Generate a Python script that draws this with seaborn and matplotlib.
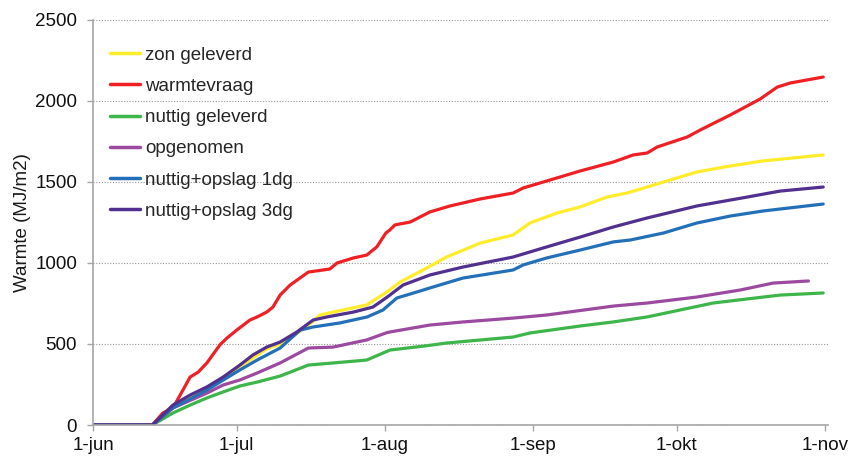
import matplotlib
matplotlib.use("Agg")
import matplotlib.pyplot as plt
import seaborn as sns
import pandas as pd

# day offsets since 1-jun, cumulative heat (MJ/m2)
zon_days = [0, 12.4, 16.7, 20.3, 23.8, 30.7, 36.3, 39.1, 42.6, 46, 47.4, 50.2, 57.2, 61.4, 64.2, 69, 73.9, 80.9, 87.8, 91.3, 97, 101.8, 107.4, 111.6, 115.8, 122.7, 126.2, 133.2, 140, 152.6]
zon_vals = [0, 0, 115, 175, 228, 360, 470, 500, 565, 640, 679, 697, 741, 821, 883, 957, 1037, 1123, 1173, 1247, 1309, 1346, 1407, 1432, 1469, 1531, 1562, 1599, 1630, 1667]

vraag_days = [0, 12.4, 14.6, 16.7, 18.8, 20.3, 22, 23.8, 26.5, 28, 30, 32.8, 34.3, 36.3, 37.6, 39.1, 41.2, 45, 49.5, 51, 54.4, 57.2, 59.3, 61.2, 62, 63.1, 66.3, 70.4, 74.6, 80.9, 87.8, 89.9, 94.8, 101.8, 108.7, 112.9, 115.8, 117.9, 124.2, 126.9, 133.2, 139.4, 143, 145.7, 152.6]
vraag_vals = [0, 0, 74, 105, 216, 296, 327, 383, 494, 537, 585, 648, 667, 697, 728, 802, 864, 944, 963, 1000, 1031, 1049, 1099, 1185, 1203, 1235, 1253, 1315, 1352, 1395, 1432, 1463, 1506, 1568, 1623, 1667, 1679, 1716, 1778, 1821, 1914, 2012, 2086, 2111, 2148]

nuttig_days = [0, 12.4, 16.7, 20.3, 23.8, 27.2, 30.7, 34.3, 39.1, 45, 50.2, 57.2, 62.1, 69.4, 73.9, 87.8, 91.3, 101.8, 108.7, 115.8, 122.7, 129.6, 136.7, 143.6, 152.6]
nuttig_vals = [0, 0, 74, 123, 167, 204, 241, 265, 302, 370, 383, 401, 463, 488, 506, 543, 568, 611, 636, 667, 710, 753, 778, 802, 815]

opgen_days = [0, 12.4, 16.7, 23.8, 27.2, 30.7, 34.3, 39.1, 45, 50.2, 57.2, 61.4, 62, 70.4, 77.3, 87.8, 94.8, 108.7, 115.8, 126.2, 135.2, 142.1, 149.5]
opgen_vals = [0, 0, 105, 197, 247, 278, 321, 383, 475, 481, 525, 570, 574, 617, 636, 660, 679, 734, 753, 790, 833, 876, 889]

opsl1_days = [0, 12.4, 16.7, 23.8, 30.7, 34.3, 39.1, 43.3, 46, 51.6, 57.3, 60.6, 63.5, 67, 70.4, 77.3, 87.8, 89.9, 94.8, 101.8, 108.7, 112.3, 119.2, 126.2, 133.2, 140, 152.6]
opsl1_vals = [0, 0, 105, 216, 340, 401, 475, 586, 605, 630, 667, 710, 784, 815, 846, 907, 957, 988, 1031, 1080, 1130, 1142, 1185, 1247, 1290, 1321, 1364]

opsl3_days = [0, 12.4, 16.7, 20.3, 23.8, 27.2, 30.7, 33.4, 36.3, 39.1, 42.6, 46, 48.9, 54.4, 58.5, 61.5, 64.8, 70.4, 77.3, 87.8, 94.8, 101.8, 108.7, 115.8, 122.7, 126.2, 136.7, 143.6, 152.6]
opsl3_vals = [0, 0, 123, 185, 235, 296, 370, 432, 481, 512, 574, 648, 667, 697, 728, 790, 864, 926, 975, 1037, 1099, 1160, 1222, 1278, 1327, 1352, 1407, 1444, 1469]

series_names = ["zon geleverd", "warmtevraag", "nuttig geleverd", "opgenomen",
                "nuttig+opslag 1dg", "nuttig+opslag 3dg"]
series_colors = ["#FFEC2A", "#EE2024", "#3DB54A", "#9C4A9F", "#2370B9", "#51308F"]

tick_days = [0, 30, 61, 92, 122, 153]
tick_labels = ["1-jun", "1-jul", "1-aug", "1-sep", "1-okt", "1-nov"]
y_ticks = [0, 500, 1000, 1500, 2000, 2500]

frames = []
for name, d, v in zip(series_names,
                      [zon_days, vraag_days, nuttig_days, opgen_days, opsl1_days, opsl3_days],
                      [zon_vals, vraag_vals, nuttig_vals, opgen_vals, opsl1_vals, opsl3_vals]):
    frames.append(pd.DataFrame({"dag": d, "warmte": v, "reeks": name}))
df = pd.concat(frames, ignore_index=True)

sns.set_style("white")
plt.rcParams["font.family"] = ["Liberation Sans", "DejaVu Sans"]

fig = plt.figure(figsize=(8.5, 4.57), dpi=100)
ax = fig.add_axes([93 / 850, 1 - 425 / 457, (828 - 93) / 850, (425 - 20) / 457])

sns.lineplot(data=df, x="dag", y="warmte", hue="reeks", hue_order=series_names,
             palette=series_colors, linewidth=2.3, ax=ax, sort=False,
             estimator=None)

ax.set_xlim(0, 153.6)
ax.set_ylim(0, 2500)
ax.set_xticks(tick_days)
ax.set_xticklabels(tick_labels)
ax.set_yticks(y_ticks)
ax.set_xlabel("")
ax.set_ylabel("Warmte (MJ/m2)", fontsize=13.5, color="#1a1a1a", labelpad=3)
ax.yaxis.grid(True, linestyle=(0, (1, 1.5)), color="#999999", linewidth=0.8)
ax.xaxis.grid(False)
for s in ["top", "right"]:
    ax.spines[s].set_visible(False)
for s in ["left", "bottom"]:
    ax.spines[s].set_color("#A6A6A6")
    ax.spines[s].set_linewidth(1.2)
ax.tick_params(axis="both", which="both", direction="out", length=4.5, width=1.0,
               color="#A6A6A6", labelsize=13.5, labelcolor="#111111",
               bottom=True, left=True)
ax.tick_params(axis="y", pad=7)
ax.tick_params(axis="x", pad=4)

leg = ax.legend(loc="upper left", bbox_to_anchor=(0.023, 0.934), frameon=False,
                fontsize=13.5, handlelength=1.6, handletextpad=0.27,
                labelspacing=0.75, borderaxespad=0.0, borderpad=0.0)
for line in leg.get_lines():
    line.set_linewidth(2.5)

fig.savefig("out.png", dpi=100)
